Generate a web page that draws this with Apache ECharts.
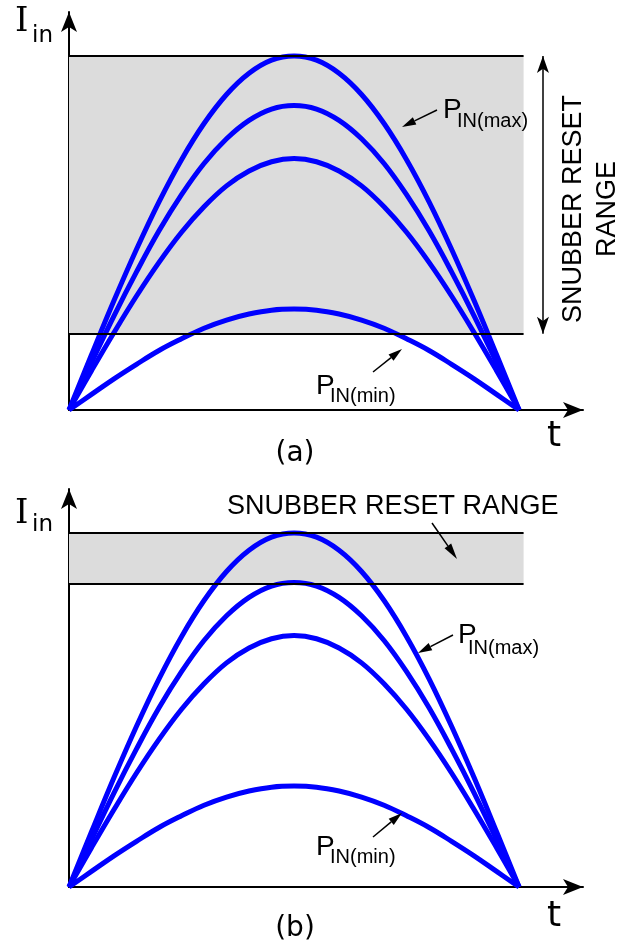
<!DOCTYPE html>
<html>
<head>
<meta charset="utf-8">
<script src="https://cdn.jsdelivr.net/npm/echarts@6/dist/echarts.min.js"></script>
<style>
  html, body { margin: 0; padding: 0; background: #fff; }
  #main { width: 629px; height: 947px; }
</style>
</head>
<body>
<div id="main"></div>
<script>
// time samples over one half line period
var tVals = [0, 0.5, 1, 1.5, 2, 2.5, 3, 3.5, 4, 4.5, 5, 5.5, 6, 6.5, 7, 7.5, 8, 8.5, 9, 9.5, 10];
// input current for the four input power levels (peak of max = 1)
var iMax  = [0, 0.156, 0.309, 0.454, 0.588, 0.707, 0.809, 0.891, 0.951, 0.988, 1.000, 0.988, 0.951, 0.891, 0.809, 0.707, 0.588, 0.454, 0.309, 0.156, 0];
var iHigh = [0, 0.134, 0.266, 0.390, 0.506, 0.608, 0.696, 0.766, 0.818, 0.850, 0.860, 0.850, 0.818, 0.766, 0.696, 0.608, 0.506, 0.390, 0.266, 0.134, 0];
var iMid  = [0, 0.111, 0.219, 0.322, 0.417, 0.502, 0.574, 0.633, 0.675, 0.701, 0.710, 0.701, 0.675, 0.633, 0.574, 0.502, 0.417, 0.322, 0.219, 0.111, 0];
var iMin  = [0, 0.044, 0.088, 0.129, 0.168, 0.201, 0.231, 0.254, 0.271, 0.282, 0.285, 0.282, 0.271, 0.254, 0.231, 0.201, 0.168, 0.129, 0.088, 0.044, 0];
// snubber reset range [low, high], panel (a) and panel (b)
var bandA = [0.215, 1.0];
var bandB = [0.856, 1.0];
var bandEnd = 10.1;
var rangeArrowT = 10.53;

var curves = [iMax, iHigh, iMid, iMin];

function pairs(ys) {
  return tVals.map(function (t, i) { return [t, ys[i]]; });
}

var myChart = echarts.init(document.getElementById('main'));

function axisLine() {
  return { show: true, onZero: false, symbol: ['none', 'arrow'], symbolSize: [12, 20],
    lineStyle: { color: '#000', width: 2 } };
}
function axisX(g) {
  return {
    gridIndex: g, type: 'value', min: 0, max: 11.42, axisLine: axisLine(),
    axisTick: { show: false }, axisLabel: { show: false }, splitLine: { show: false }
  };
}
function axisY(g) {
  return {
    gridIndex: g, type: 'value', min: 0, max: 1.124, axisLine: axisLine(),
    axisTick: { show: false }, axisLabel: { show: false }, splitLine: { show: false }
  };
}

// grey band + its two border lines
function bandSeries(g, band, withRangeArrow) {
  var s = {
    type: 'line', xAxisIndex: g, yAxisIndex: g, data: [], z: 1, silent: true,
    markArea: {
      silent: true,
      itemStyle: { color: '#dcdcdc' },
      data: [[{ coord: [0, band[0]] }, { coord: [bandEnd, band[1]] }]]
    },
    markLine: {
      silent: true, symbol: 'none', animation: false,
      label: { show: false },
      lineStyle: { color: '#000', width: 2, type: 'solid' },
      data: [
        [{ coord: [0, band[0]] }, { coord: [bandEnd, band[0]] }],
        [{ coord: [0, band[1]] }, { coord: [bandEnd, band[1]] }]
      ]
    }
  };
  if (withRangeArrow) {
    s.markLine.data.push([
      { coord: [rangeArrowT, band[1]], symbol: 'arrow', symbolSize: [9, 17], lineStyle: { width: 1.5 } },
      { coord: [rangeArrowT, band[0]], symbol: 'arrow', symbolSize: [9, 17], lineStyle: { width: 1.5 } }
    ]);
  }
  return s;
}

var series = [bandSeries(0, bandA, true), bandSeries(1, bandB, false)];
[0, 1].forEach(function (g) {
  curves.forEach(function (c) {
    series.push({
      type: 'line', xAxisIndex: g, yAxisIndex: g, z: 3,
      data: pairs(c), smooth: 0.4, showSymbol: false, silent: true,
      lineStyle: { color: '#0000ff', width: 5 }
    });
  });
});

// annotation arrow: thin line with filled head at (x2, y2)
function arrow(x1, y1, x2, y2, len, w) {
  var a = Math.atan2(y2 - y1, x2 - x1);
  var bx = x2 - len * Math.cos(a), by = y2 - len * Math.sin(a);
  var nx = -Math.sin(a) * w / 2, ny = Math.cos(a) * w / 2;
  return [
    { type: 'line', z: 100, shape: { x1: x1, y1: y1, x2: bx, y2: by }, style: { stroke: '#000', lineWidth: 1.5 } },
    { type: 'polygon', z: 100, shape: { points: [[x2, y2], [bx + nx, by + ny], [bx - nx, by - ny]] }, style: { fill: '#000' } }
  ];
}
function txt(x, y, s, size, font, align) {
  return {
    type: 'text', x: x, y: y, z: 100,
    style: { text: s, fontSize: size, fontFamily: font, fill: '#000',
      align: align || 'left', verticalAlign: 'middle' }
  };
}
var sans = 'Liberation Sans';
var dv = 'DejaVu Sans';

var graphics = [
  // panel (a)
  txt(15, 22, 'I', 34, 'DejaVu Serif'),
  txt(32, 36, 'in', 23, dv),
  txt(547, 437, 't', 36, dv),
  txt(295, 454, '(a)', 28, dv, 'center'),
  txt(443, 110, 'P', 28, sans),
  txt(457, 121, 'IN(max)', 20, sans),
  txt(316, 386, 'P', 28, sans),
  txt(330, 396, 'IN(min)', 20, sans),
  {
    type: 'text', x: 591, y: 209, rotation: Math.PI / 2, z: 100,
    style: { text: 'SNUBBER RESET\nRANGE', fontSize: 27, fontFamily: sans, fill: '#000',
      align: 'center', verticalAlign: 'middle', lineHeight: 34 }
  },
  // panel (b)
  txt(15, 514, 'I', 34, 'DejaVu Serif'),
  txt(32, 525, 'in', 23, dv),
  txt(547, 917, 't', 36, dv),
  txt(295, 929, '(b)', 28, dv, 'center'),
  txt(227, 507, 'SNUBBER RESET RANGE', 27, sans),
  txt(458, 635, 'P', 28, sans),
  txt(468, 648, 'IN(max)', 20, sans),
  txt(316, 847, 'P', 28, sans),
  txt(330, 857, 'IN(min)', 20, sans)
];
graphics = graphics
  .concat(arrow(437, 110, 402, 127, 14, 8))
  .concat(arrow(373, 372, 402, 349, 14, 8))
  .concat(arrow(453, 635, 418, 653, 14, 8))
  .concat(arrow(373, 837, 402, 813, 14, 8))
  .concat(arrow(432, 523, 457, 559, 16, 8));

option = {
  animation: false,
  backgroundColor: '#fff',
  grid: [
    { left: 69, top: 12, width: 514, height: 398 },
    { left: 69, top: 489, width: 514, height: 398 }
  ],
  xAxis: [axisX(0), axisX(1)],
  yAxis: [axisY(0), axisY(1)],
  series: series,
  graphic: { elements: graphics }
};
myChart.setOption(option);
</script>
</body>
</html>
